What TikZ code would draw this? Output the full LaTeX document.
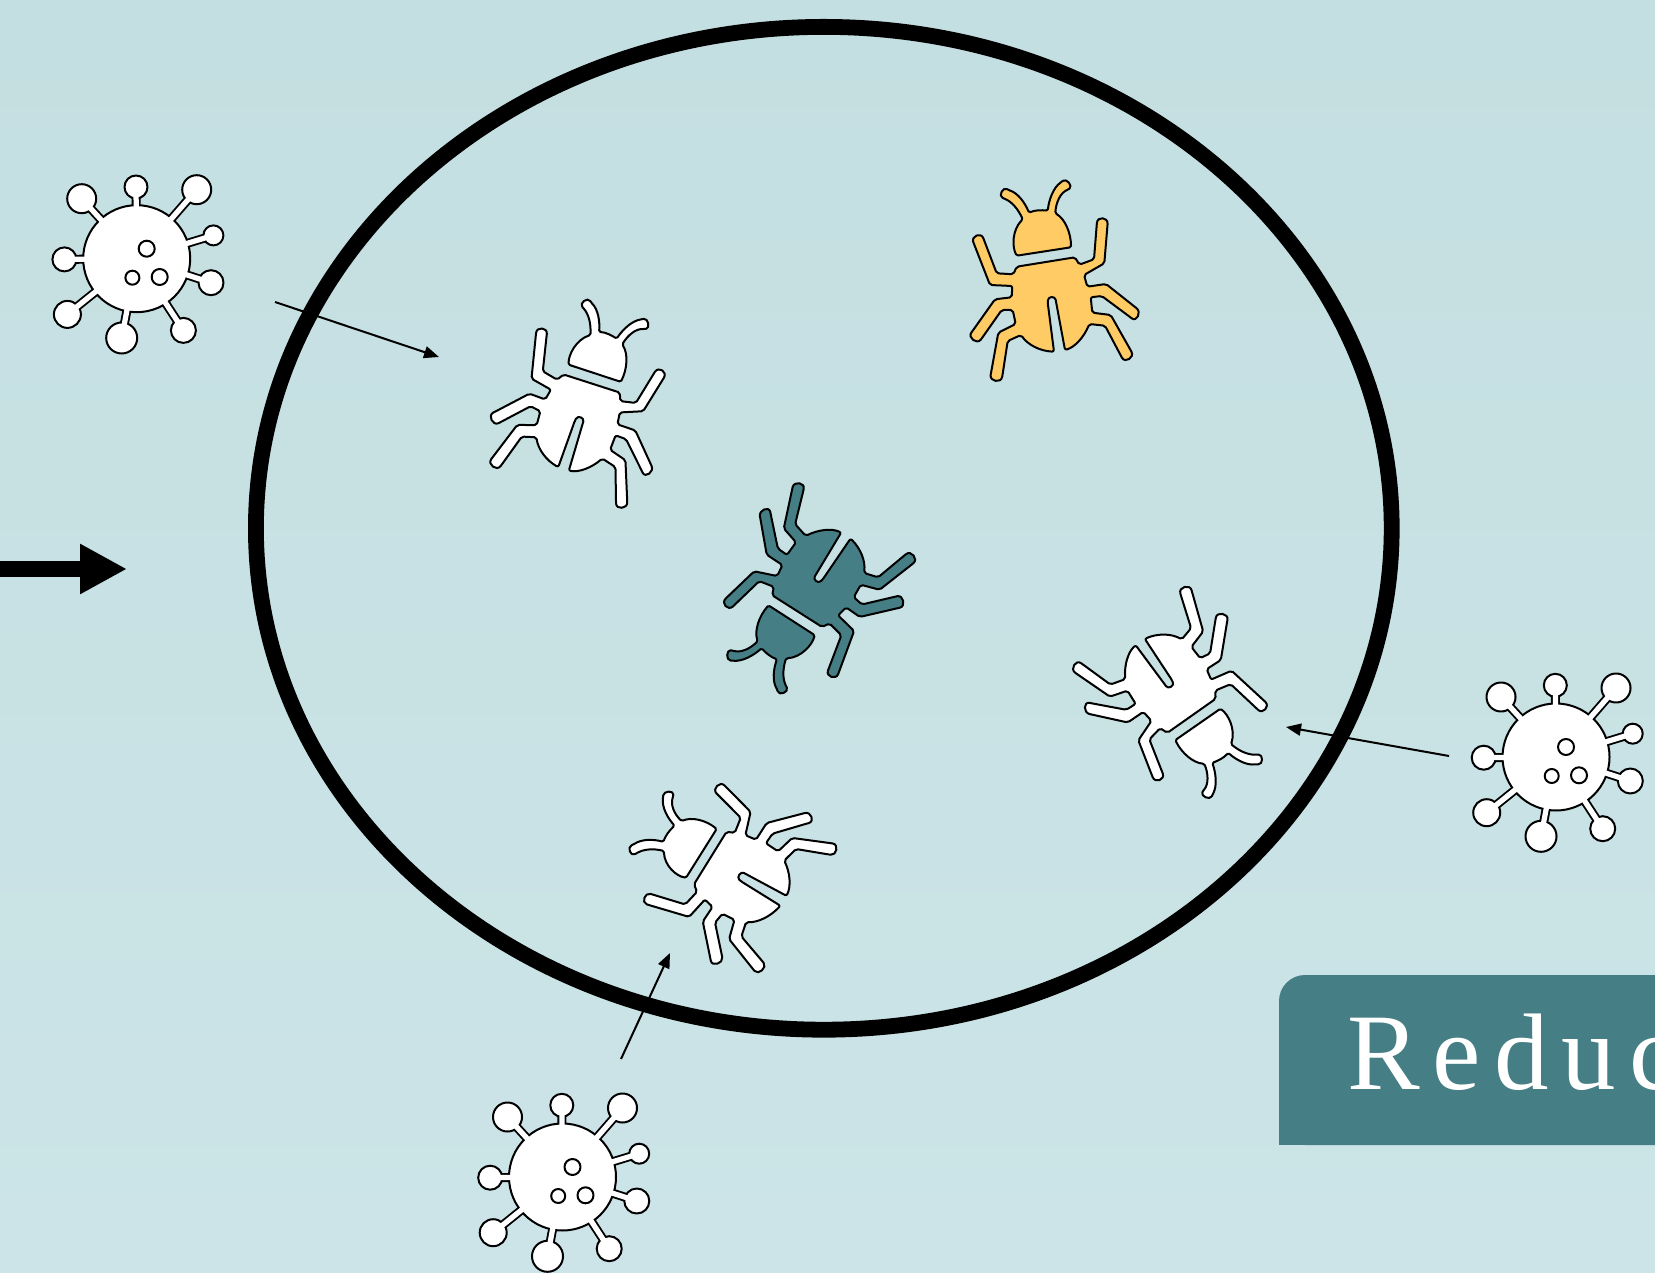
\documentclass[tikz,border=0pt]{standalone}
\usepackage{fontspec}
\setmainfont{Liberation Serif}
\newfontfamily\labelfont[LetterSpace=12]{Liberation Serif}
\usepackage{xcolor}
\definecolor{bgTop}{HTML}{C4DFE1}
\definecolor{bgBottom}{HTML}{CCE4E7}
\definecolor{tealDark}{HTML}{457E84}
\definecolor{warmYellow}{HTML}{FFCB65}
\usetikzlibrary{
    shapes.geometric,
    arrows.meta,
    positioning
}
\tikzset{
    % Thin outline shared by the bugs and the viruses
    outline/.style={
        draw=black,
        line width=0.04cm,
        line join=round,
    },
    % Bug, drawn around its own origin, #1 is the fill
    pics/bug/.style={
        code={
            \path [outline, fill=#1, rounded corners=0.03cm]
                (-33.3,19.3) .. controls (-38,28) and (-38,45) .. (-27.3,55.7)
                .. controls (-32,66) and (-38,73) .. (-46,76.5)
                .. controls (-52,79) and (-47,88.5) .. (-41.7,85)
                .. controls (-32,82) and (-25,72) .. (-21,62.3)
                .. controls (-15,65) and (-8,65) .. (-2.3,64.3)
                .. controls (-1,75) and (3,87) .. (11.7,93.3)
                .. controls (16.5,97) and (23,89) .. (18.3,85.5)
                .. controls (10,82) and (6,72) .. (5.3,61.7)
                .. controls (15,56) and (21,42) .. (21,27.7)
                -- cycle;
            \path [outline, fill=#1, rounded corners=0.04cm]
                (-33.3,8.3) -- (25,17.7) -- (29.3,10.3) -- (44,15.7) -- (46.7,50)
                .. controls (47.4,59) and (58.1,58) .. (57.4,49)
                -- (54.3,11.7) -- (34,0) -- (37.3,-11.7) -- (56,-9) -- (85,-32)
                .. controls (91.7,-37.3) and (86.7,-47.3) .. (80,-42)
                -- (51.7,-21) -- (40.7,-22.3) -- (42.3,-37.7) -- (60.7,-40) -- (80.5,-75)
                .. controls (84.6,-82.5) and (75.1,-88.5) .. (71,-81)
                -- (55,-50.7) -- (39.3,-49)
                .. controls (34,-62) and (25,-72) .. (15,-75)
                -- (6,-26.7)
                .. controls (5,-21) and (-2,-21) .. (-2.3,-27.7)
                -- (4,-76.7)
                .. controls (-10,-76) and (-22,-70) .. (-29,-60)
                -- (-42.3,-66) -- (-47.5,-100)
                .. controls (-49,-108.5) and (-60.5,-106.5) .. (-59,-98)
                -- (-51.7,-57.7) -- (-34.3,-49) -- (-37.3,-35) -- (-48.3,-35) -- (-68,-63)
                .. controls (-73,-69.8) and (-82.5,-62.8) .. (-77.5,-56)
                -- (-55,-24.3) -- (-38.3,-22.3) -- (-37.7,-11) -- (-60,-10) -- (-76,31)
                .. controls (-79,39) and (-69,43) .. (-66,35)
                -- (-53.3,1.7) -- (-36.7,0.7)
                -- cycle;
        }
    },
    % Virus, stalks first in black, then body and balls, then stalks again in white
    pics/virus/.style={
        code={
            \foreach \bx/\by/\br in {-55/60/14.5, -0.7/71.7/11.5, 60/69/14.5, 76.7/23.3/10,
                74.3/-24/12.5, 46.7/-71.7/12.5, -15/-79.3/15.5, -69.3/-55.7/13.5, -72.3/-0.7/12} {
                \draw [line width=0.18cm] (0,0) -- (\bx,\by);
            }
            \path [outline, fill=white] (0,0) circle (53.5);
            \foreach \bx/\by/\br in {-55/60/14.5, -0.7/71.7/11.5, 60/69/14.5, 76.7/23.3/10,
                74.3/-24/12.5, 46.7/-71.7/12.5, -15/-79.3/15.5, -69.3/-55.7/13.5, -72.3/-0.7/12} {
                \path [outline, fill=white] (\bx,\by) circle (\br);
                \draw [white, line width=0.105cm] (0,0) -- (\bx,\by);
            }
            \path [outline, fill=white] (10,10) circle (8);
            \path [outline, fill=white] (-4.3,-19) circle (7);
            \path [outline, fill=white] (23,-18.3) circle (8);
        }
    },
    % Arrow from a virus into the cell
    thin arrow/.style={
        -{Triangle[length=0.3cm, width=0.24cm]},
        line width=0.04cm,
    },
    % Fat arrow on the left edge
    fat arrow/.style={
        -{Triangle[length=0.94cm, width=0.94cm]},
        line width=0.31cm,
    },
}

\begin{document}
\begin{tikzpicture}[x=0.02cm, y=0.02cm]
    \useasboundingbox (0,0) rectangle (1655,1272);
    \clip (0,0) rectangle (1655,1272);
    \path [top color=bgTop, bottom color=bgBottom] (0,0) rectangle (1655,1272);

    \node (cell) [ellipse, draw, line width=0.316cm, inner sep=0, minimum width=22.72cm, minimum height=20.06cm] at (823.8,743.7) {};

    \pic (bugWhiteA) [rotate=-27] at (589.5,875) {bug=white};
    \pic (bugYellow) at (1050,997) {bug=warmYellow};
    \pic (bugTeal) [rotate=138.4] at (802.6,673.4) {bug=tealDark};
    \pic (bugWhiteB) [rotate=-154] at (1182,566) {bug=white};
    \pic (bugWhiteC) [rotate=50, xscale=1.05, yscale=0.94] at (722.4,409.4) {bug=white};

    \pic (virusA) at (136.7,1013.3) {virus};
    \pic (virusB) at (1556,515) {virus};
    \pic (virusC) at (562.5,95) {virus};

    \coordinate (inA) at (275,970);
    \coordinate (endA) at (439,915);
    \coordinate (inB) at (1449,516);
    \coordinate (endB) at (1286,545);
    \coordinate (inC) at (621,213);
    \coordinate (endC) at (670,319);
    \coordinate (inD) at (0,703);
    \coordinate (endD) at (127,703);
    \draw [thin arrow] (inA) -- (endA);
    \draw [thin arrow] (inB) -- (endB);
    \draw [thin arrow] (inC) -- (endC);
    \draw [fat arrow] (inD) -- (endD);

    \fill [tealDark, rounded corners=0.52cm] (1279,127) -- (1279,297) -- (1700,297) -- (1700,127) -- cycle;
    \fill [tealDark] (1279,127) rectangle (1320,200);
    \node (reduc) [anchor=base west, inner sep=0, text=white, font=\labelfont\fontsize{62}{62}\selectfont] at (1347,183) {Reduc};
\end{tikzpicture}
\end{document}
